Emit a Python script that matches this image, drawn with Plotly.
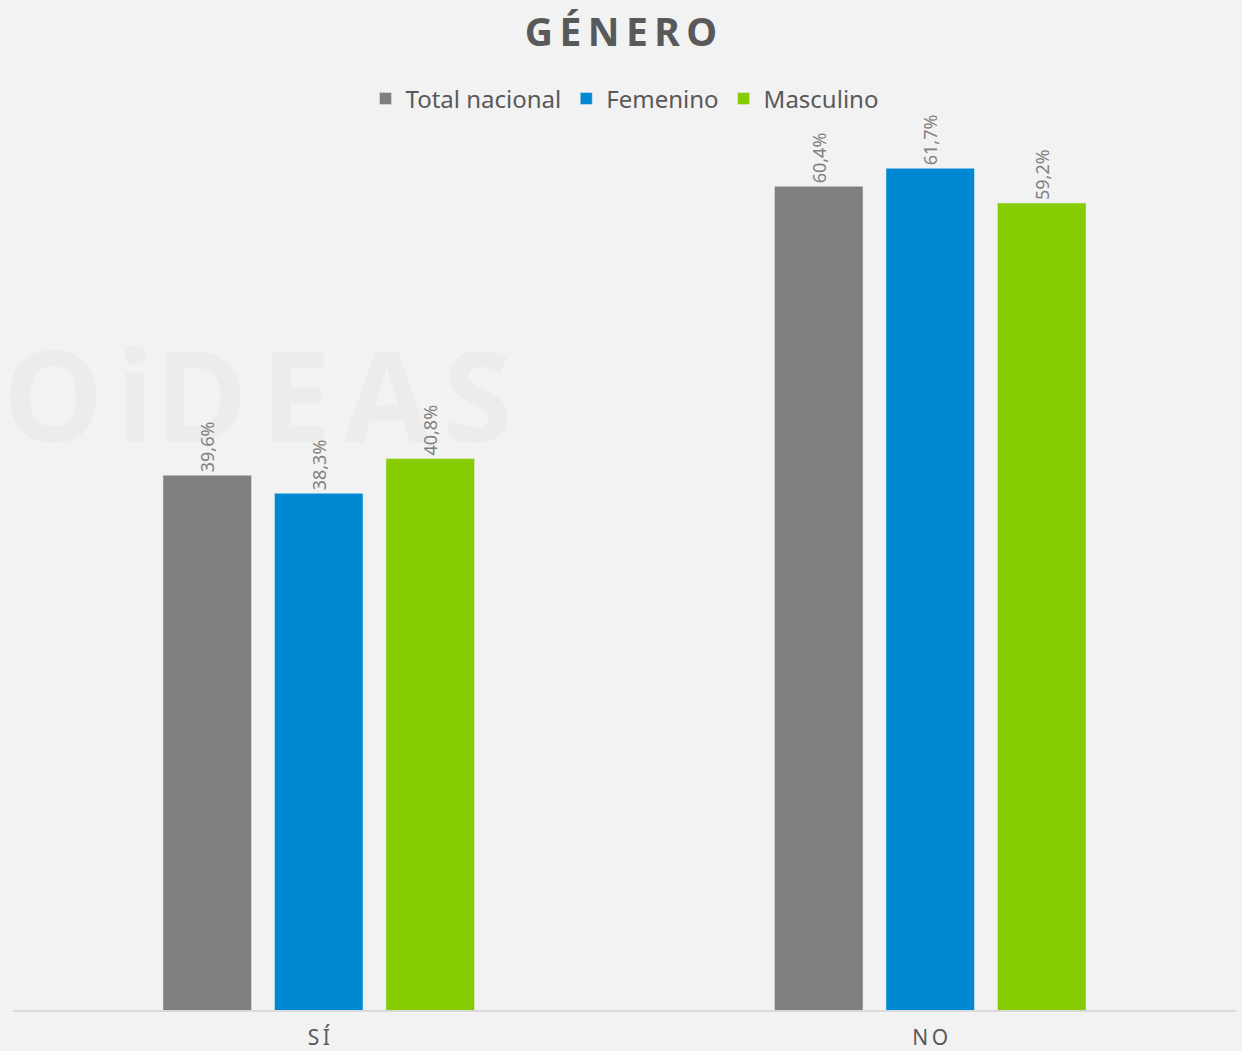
import plotly.graph_objects as go

categorias = ["S\u2009Í", "N\u2009O"]
series = ["Total nacional", "Femenino", "Masculino"]
total_nacional = [39.6, 60.4]
femenino = [38.3, 61.7]
masculino = [40.8, 59.2]
colores = ["#7F7F7F", "#0088D2", "#86CC00"]


def etiqueta(v):
    return f"{v:.1f}%".replace(".", ",")


fig = go.Figure()
for nombre, valores, color in zip(series, [total_nacional, femenino, masculino], colores):
    fig.add_trace(go.Bar(
        name=nombre,
        x=categorias,
        y=valores,
        marker_color=color,
        text=[etiqueta(v) for v in valores],
        textposition="outside",
        textangle=-90,
        textfont=dict(color="#808080", size=18, family="Noto Sans"),
        cliponaxis=False,
    ))

# marca de agua, por debajo de las barras
fig.add_shape(
    type="rect", xref="paper", yref="paper",
    x0=0.0, x1=0.40, y0=0.58, y1=0.69,
    line=dict(width=0), fillcolor="rgba(0,0,0,0)", layer="below",
    label=dict(
        text="<b>O\u200aiD\u200aE\u200aA\u200aS</b>", textposition="middle center",
        font=dict(size=126, color="#ECECEC", family="Open Sans"),
    ),
)

fig.update_layout(
    width=1242, height=1051,
    paper_bgcolor="#F2F2F2", plot_bgcolor="rgba(0,0,0,0)",
    margin=dict(l=13, r=6, t=53, b=41),
    title=dict(
        text="<b>G\u2009É\u2009N\u2009E\u2009R\u2009O</b>",
        x=0.5, xanchor="center", y=0.969, yanchor="middle",
        font=dict(size=39, color="#595959", family="Noto Sans"),
    ),
    legend=dict(
        orientation="h", x=0.5, xanchor="center", y=0.952, yanchor="middle",
        font=dict(size=24, color="#595959", family="Noto Sans"),
        bgcolor="rgba(0,0,0,0)",
    ),
    barmode="group", bargap=0.453, bargroupgap=0.206,
    showlegend=True,
)
fig.update_xaxes(
    showline=True, linecolor="#D9D9D9", linewidth=2, showgrid=False,
    tickfont=dict(size=21, color="#595959", family="Noto Sans"),
    ticks="", ticklabelstandoff=8, automargin=False, fixedrange=True,
)
fig.update_yaxes(
    range=[1.1, 70], visible=False, showgrid=False, zeroline=False,
)

fig.write_html(
    "out.html",
    config={"displayModeBar": False},
    post_script="document.body.style.margin='0';document.body.style.background='#F2F2F2';",
)
